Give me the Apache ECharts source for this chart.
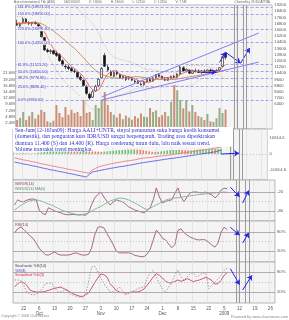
<!DOCTYPE html>
<html>
<head>
<meta charset="utf-8">
<title>ASII</title>
<script src="https://cdn.jsdelivr.net/npm/echarts@6.0.0/dist/echarts.min.js"></script>
<style>
  html, body { margin: 0; padding: 0; background: #fff; }
  #chart { width: 289px; height: 320px; }
</style>
</head>
<body>
<div id="chart"></div>
<script>
// trading days shown on the axis (data stops at 2009-01-06, the rest is room for projections)
const dates = [
  "2008-09-17","2008-09-18","2008-09-19","2008-09-22","2008-09-23","2008-09-24","2008-09-25","2008-09-26",
  "2008-10-06","2008-10-07","2008-10-08","2008-10-09","2008-10-10","2008-10-13","2008-10-14","2008-10-15",
  "2008-10-16","2008-10-17","2008-10-20","2008-10-21","2008-10-22","2008-10-23","2008-10-24","2008-10-27",
  "2008-10-28","2008-10-29","2008-10-30","2008-10-31","2008-11-03","2008-11-04","2008-11-05","2008-11-06",
  "2008-11-07","2008-11-10","2008-11-11","2008-11-12","2008-11-13","2008-11-14","2008-11-17","2008-11-18",
  "2008-11-19","2008-11-20","2008-11-21","2008-11-24","2008-11-25","2008-11-26","2008-11-27","2008-11-28",
  "2008-12-01","2008-12-02","2008-12-03","2008-12-04","2008-12-05","2008-12-08","2008-12-09","2008-12-10",
  "2008-12-11","2008-12-12","2008-12-15","2008-12-16","2008-12-17","2008-12-18","2008-12-19","2008-12-22",
  "2008-12-23","2008-12-24","2008-12-29","2008-12-30","2009-01-05","2009-01-06","2009-01-07","2009-01-08",
  "2009-01-09","2009-01-12","2009-01-13","2009-01-14","2009-01-15","2009-01-16","2009-01-19","2009-01-20",
  "2009-01-21","2009-01-22","2009-01-23","2009-01-26","2009-01-27"
];

const opens = [16800,16500,17000,17400,16900,16800,16900,16700,16300,15000,
  13400,13200,13300,13000,12800,12000,11300,11200,11000,10700,
  10500,9900,9500,8700,7700,7300,8100,8800,9800,12700,
  11200,10600,10000,10600,10200,9800,9900,9700,9800,9400,
  9300,9000,8900,9300,9600,9400,9800,10200,10000,9600,
  9500,9800,10000,9900,10300,11100,10700,10800,10400,10700,
  10700,10500,10700,10600,10800,10600,10700,10800,11300,13000];
const highs = [17300,16900,17600,17500,17100,17000,17100,16900,16400,15100,
  13600,13500,13400,13300,13000,12200,11600,11500,11200,11000,
  10600,10200,9600,8900,7900,8200,8900,9800,11200,13000,
  11500,10800,10700,10800,10300,10100,10000,10000,9900,9600,
  9500,9200,9400,9700,9800,9900,10300,10400,10100,9800,
  9900,10100,10200,10400,11400,11300,11000,10900,10800,11000,
  10900,10800,10900,10900,11000,10800,10900,11200,12600,13000];
const lows = [16500,16200,16900,16900,16600,16500,16700,16400,15000,13300,
  13000,12900,12800,12500,11900,11300,10900,10800,10500,10400,
  9800,9400,8700,7600,6950,7200,8000,8600,9700,11200,
  10600,10000,9900,10100,9700,9600,9400,9500,9400,9100,
  9000,8800,8800,9200,9300,9300,9700,9900,9600,9400,
  9400,9700,9800,9800,10200,10600,10500,10300,10300,10500,
  10400,10300,10500,10400,10500,10400,10500,10700,11200,12150];
const closes = [16600,16800,17400,17000,16800,16900,16800,16500,15100,13400,
  13200,13300,12900,12700,12000,11500,11200,11000,10700,10600,
  9900,9600,8800,7800,7200,8000,8700,9600,11000,11300,
  10800,10100,10500,10300,9800,10000,9600,9900,9500,9300,
  9100,8900,9300,9600,9400,9800,10200,10000,9700,9500,
  9800,10000,9900,10300,11200,10700,10900,10400,10700,10600,
  10500,10700,10600,10800,10600,10700,10800,11100,12500,12450];
// volume, millions of shares
const volumes = [3.5,4.3,6.6,3.5,5.0,6.6,4.0,5.5,7.4,6.6,
  3.0,2.5,3.2,9.3,6.2,4.6,8.5,5.5,7.4,6.2,
  6.6,5.0,11.2,6.2,6.6,3.5,9.3,8.1,11.2,14.3,
  9.3,6.6,5.5,4.5,6.0,3.8,5.2,4.4,3.6,5.0,
  4.2,6.0,4.8,4.6,8.1,6.6,7.2,4.6,5.4,6.6,
  5.0,10.5,17.0,15.0,11.2,8.0,11.2,6.8,9.3,6.6,
  5.0,4.6,3.5,5.8,3.0,2.7,4.2,8.1,6.2,7.5];

// overlays
const maShort = [16900,16850,16900,16950,16900,16980,16980,16800,16420,15740,
  15000,14260,13580,13100,12820,12480,12060,11680,11280,11000,
  10680,10360,9920,9340,8660,8280,8100,8260,8900,9720,
  10280,10560,10740,10600,10300,10140,10040,9920,9760,9660,
  9480,9340,9220,9240,9260,9400,9660,9800,9820,9840,
  9840,9800,9780,9900,10240,10420,10600,10700,10780,10660,
  10620,10580,10620,10640,10640,10680,10700,10800,11140,11510];
const maLong = [16700,16750,16800,16850,16850,16880,16900,16880,16800,16600,
  16350,16100,15850,15550,15250,14900,14600,14250,13900,13600,
  13200,12800,12400,11950,11500,11100,10750,10450,10250,10100,
  9950,9850,9800,9780,9760,9770,9800,9850,9900,9950,
  9950,9900,9850,9780,9700,9650,9620,9600,9580,9560,
  9560,9580,9600,9640,9720,9790,9860,9920,9990,10050,
  10110,10180,10250,10330,10400,10460,10520,10580,10700,10820];
const bandUpper = [17700,17700,17800,17900,17900,17900,17900,17900,18400,19300,
  19900,20300,20500,20500,20500,20400,20200,19900,19500,19100,
  18700,18300,17900,17600,17300,16800,16200,15500,14700,14000,
  13300,12800,12500,12300,12200,12100,12000,11900,11800,11600,
  11400,11200,11000,10900,10900,10800,10800,10700,10600,10600,
  10500,10500,10500,10600,11000,11200,11300,11400,11400,11400,
  11400,11350,11300,11200,11150,11100,11100,11200,12000,12400];
const bandLower = [16000,16000,16000,16000,16000,16100,16100,16000,15300,14100,
  13000,12100,11400,10800,10200,9700,9200,8800,8400,8100,
  7800,7400,7000,6500,6000,5700,5500,5600,5900,6200,
  6600,7000,7300,7500,7600,7700,7900,8000,8200,8400,
  8500,8500,8500,8500,8500,8500,8600,8600,8600,8600,
  8700,8700,8800,8800,8700,8700,8700,8700,8800,9200,
  9500,9700,9800,9900,10000,10100,10200,10200,9900,9700];

const fibPct = [0, 23.6, 38.2, 50, 61.8, 100, 123.6, 150, 161.8];
const fibPrice = [6950.00, 8696.40, 9776.80, 10650.00, 11523.20, 14350.00, 16096.40, 18050.00, 18923.20];

// second panel
const oscHist = [300,400,500,600,500,400,300,400,800,1200,
  1500,1800,2000,2200,2400,2600,2800,3000,3200,3000,
  2800,2600,2800,3000,3300,3000,2600,2200,1800,1500,
  1600,1800,2000,2200,2400,2600,2700,2800,2900,3000,
  3000,2900,2800,2500,2100,1800,1500,1400,1600,1900,
  2100,2300,2500,2600,2700,2800,2700,2500,2300,2400,
  2600,2800,3000,3100,3200,3300,3400,3300,3500,3600];
const oscRed = [-2600,-3000,-3400,-3900,-4200,-4600,-5100,-5400,-5900,-6500,
  -6800,-7200,-7700,-8000,-8400,-8900,-9200,-9600,-10100,-10400,
  -10800,-11300,-11600,-12000,-12400,-12600,-10500,-9500,-8600,-8000,
  -7500,-7000,-6600,-6200,-5800,-5400,-5100,-4700,-4500,-4200,
  -3900,-3500,-3000,-2700,-2500,-2300,-2100,-1800,-1500,-1300,
  -1100,-900,-600,-300,0,300,600,900,1200,1500,
  1800,2100,2400,2700,3000,3300,3600,3900,4300,4640];
const oscBlue = [-5300,-5700,-6100,-6600,-6900,-7300,-7800,-8100,-8600,-9100,
  -9500,-9900,-10400,-10700,-11100,-11600,-11900,-12300,-12800,-13100,
  -13500,-14000,-14400,-14800,-15250,-13400,-12000,-11500,-11100,-10700,
  -10300,-9900,-9500,-9200,-8800,-8500,-8200,-7900,-7500,-7200,
  -6800,-6400,-6000,-5700,-5400,-5100,-4800,-4500,-4200,-3900,
  -3600,-3300,-3000,-2800,-2500,-2200,-1900,-1600,-1300,-1000,
  -700,-400,-100,200,500,800,1100,1500,2000,2650];

const willR = [-61,-45,-50,-51,-46,-43,-42,-45,-77,-88,
  -92,-70,-75,-80,-83,-86,-90,-92,-92,-91,
  -92,-93,-92,-94,-86,-60,-39,-28,-20,-36,
  -50,-61,-52,-45,-48,-51,-58,-67,-72,-77,
  -80,-83,-86,-78,-70,-45,-7,-36,-55,-50,
  -47,-45,-25,-7,-36,-51,-35,-23,-20,-20,
  -22,-23,-20,-25,-29,-39,-30,-14,-8,-10];
const willRMa = [-77,-70,-63,-57,-52,-48,-46,-45,-47,-50,
  -54,-58,-61,-66,-71,-76,-80,-83,-86,-89,
  -91,-92,-91,-89,-86,-81,-75,-70,-66,-60,
  -54,-49,-45,-42,-39,-40,-42,-45,-50,-55,
  -60,-66,-72,-76,-72,-66,-61,-56,-51,-46,
  -43,-41,-39,-38,-37,-35,-34,-32,-31,-29,
  -28,-27,-26,-25,-24,-23,-22,-21,-20,-21];
const rsi = [77,90,96,88,78,68,60,45,29,18,
  8,7,12,17,10,7,7,7,8,12,
  14,10,7,7,9,29,70,95,97,93,
  75,58,40,20,14,14,14,14,12,6,
  4,2,2,10,25,55,86,75,60,55,
  42,30,40,85,90,78,70,64,60,56,
  55,56,55,47,39,32,45,80,95,88];
const stochK = [56,56,55,40,20,14,11,14,17,30,
  45,47,47,32,22,20,24,26,14,11,
  7,5,8,11,50,95,98,80,62,45,
  32,20,20,28,35,25,12,15,20,25,
  31,33,35,60,77,85,65,45,30,18,
  35,50,70,86,65,56,65,75,78,65,
  70,77,77,30,40,50,60,70,86,92];
const stochD = [35,45,50,48,40,26,22,20,20,20,
  22,25,28,31,33,35,30,26,20,15,
  11,8,5,12,17,32,48,62,74,72,
  65,45,35,25,20,18,17,18,20,20,
  20,24,29,40,52,65,75,70,62,52,
  48,47,52,56,52,55,60,56,51,54,
  56,60,64,60,55,44,45,55,70,78];

// hand-drawn annotations: [categoryIndex, value] pairs
const channelLines = [[[28, 7330], [80, 15580]], [[28, 6940], [80, 11840]]];
const priceArrows = [[[61, 10550], [66, 10550]], [[67, 11800], [69, 13100]], [[69, 13100], [74, 11700]], [[74, 11700], [77, 13650]]];
const oscArrows = [[[69, 0], [75, 600]]];
const willArrows = [[[70, -5], [73, -35]], [[74, -55], [76, -15]]];
const rsiArrows = [[[70, 95], [73, 70]], [[74, 45], [76, 78]]];
const stochArrows = [[[70, 90], [73, 42]], [[74, 26], [77, 70]]];
const cycleIdx = [72, 73, 75, 76];

const noteLines = [
  "Sen-Jum(12-16Jan09): Harga AALI+UNTR, sinyal penurunan suku bunga kredit konsumsi",
  "(domestik), dan penguatan kurs IDR/USD sangat berpengaruh. Trading area diperkirakan",
  "diantara 11.400 (S) dan 14.400 (R). Harga cenderung turun dulu, lalu naik sesuai trend.",
  "Volume transaksi trend meningkat."
];

const ohlc = opens.map((o, i) => [o, closes[i], lows[i], highs[i]]);
const isUp = i => closes[i] >= opens[i];

const lvlStyle = { color: "#a992a2", width: 0.8, type: "solid" };
const midStyle = { color: "#b8b8b8", width: 0.8, type: [1, 2] };
const cycStyle = { color: "#9c9c9c", width: 1, type: "solid" };
const arrowStyle = { color: "#2424e6", width: 1, type: "solid" };

function seg(p, style, arrow) {
  return [
    { coord: [dates[p[0][0]], p[0][1]], lineStyle: style },
    { coord: [dates[p[1][0]], p[1][1]], symbol: arrow ? "arrow" : "none", symbolSize: 5 }
  ];
}

function panelMarks(levels, mid, arrows) {
  const data = [];
  levels.forEach(v => data.push({ yAxis: v, lineStyle: lvlStyle }));
  if (mid !== null) data.push({ yAxis: mid, lineStyle: midStyle });
  cycleIdx.forEach(i => data.push({ xAxis: dates[i], lineStyle: cycStyle }));
  arrows.forEach(p => data.push(seg(p, arrowStyle, true)));
  return { silent: true, symbol: "none", label: { show: false }, data: data };
}

const L = 13, R = 14;
const tops = [5, 129, 180, 221, 262];
const heights = [124, 51, 41, 41, 41];
const grids = tops.map((t, i) => ({
  left: L, right: R, top: t, height: heights[i],
  show: true, backgroundColor: "#f4f4f4", borderColor: "#9a9a9a", borderWidth: 0.7
}));

const monthTag = { 8: "Oct", 28: "Nov", 48: "Dec", 68: "2009" };
const weekTick = idx => idx >= 3 && (idx - 3) % 5 === 0;

const xAxes = grids.map((g, i) => ({
  type: "category", gridIndex: i, data: dates, boundaryGap: true,
  axisLine: { show: false }, axisTick: { show: false },
  splitLine: { show: true, interval: weekTick, lineStyle: { color: "#e0e0e0", width: 0.7 } },
  axisLabel: i === 4 ? {
    show: true, interval: weekTick, fontSize: 4.5, color: "#555", margin: 3, lineHeight: 5,
    fontFamily: "Liberation Sans",
    formatter: (val, idx) => {
      const d = String(+val.slice(8));
      return monthTag[idx] ? d + "\n" + monthTag[idx] : d;
    }
  } : { show: false }
}));

const small = { fontSize: 4.2, color: "#555", margin: 2, fontFamily: "Liberation Sans" };
const yAxes = [
  { type: "value", gridIndex: 0, position: "right", min: 3200, max: 19200, interval: 800,
    splitLine: { show: false }, axisLine: { show: false }, axisTick: { show: false },
    axisLabel: Object.assign({}, small, { formatter: v => (v >= 6400 ? String(v) : "") }) },
  { type: "value", gridIndex: 0, position: "left", min: 0, max: 48e6, interval: 2.4e6,
    splitLine: { show: false }, axisLine: { show: false }, axisTick: { show: false },
    axisLabel: Object.assign({}, small, { margin: 1, formatter: v => {
      const m = Math.round(v / 1e5) / 10;
      return (m > 0 && m <= 21.6) ? m.toFixed(1) + "M" : "";
    } }) },
  { type: "value", gridIndex: 1, position: "right", min: -17200, max: 16600,
    splitLine: { show: false }, axisLine: { show: false }, axisTick: { show: false },
    axisLabel: Object.assign({}, small, { customValues: [10614.6, 0, -10614.6], formatter: v => String(v) }) },
  { type: "value", gridIndex: 2, position: "right", min: -112, max: 18,
    splitLine: { show: false }, axisLine: { show: false }, axisTick: { show: false },
    axisLabel: Object.assign({}, small, { customValues: [-20, -80], formatter: v => String(v) }) },
  { type: "value", gridIndex: 3, position: "right", min: -15, max: 115,
    splitLine: { show: false }, axisLine: { show: false }, axisTick: { show: false },
    axisLabel: Object.assign({}, small, { customValues: [80, 20], formatter: v => v + "%" }) },
  { type: "value", gridIndex: 4, position: "right", min: -13, max: 110,
    splitLine: { show: false }, axisLine: { show: false }, axisTick: { show: false },
    axisLabel: Object.assign({}, small, { customValues: [80, 20], formatter: v => v + "%" }) }
];

// price panel annotations
const priceMarkData = [];
channelLines.forEach(p => priceMarkData.push(seg(p, { color: "#7474f2", width: 0.9, type: "solid" }, false)));
priceArrows.forEach(p => priceMarkData.push(seg(p, arrowStyle, true)));
cycleIdx.forEach(i => priceMarkData.push({ xAxis: dates[i], lineStyle: cycStyle }));

const chart = echarts.init(document.getElementById("chart"));
chart.setOption({
  animation: false,
  backgroundColor: "#ffffff",
  grid: grids,
  xAxis: xAxes,
  yAxis: yAxes,
  series: [
    {
      name: "Volume", type: "bar", xAxisIndex: 0, yAxisIndex: 1,
      data: volumes.map(v => v * 1e6), barWidth: 2,
      itemStyle: { color: p => (isUp(p.dataIndex) ? "#98ad86" : "#cc8f76") }
    },
    {
      name: "ASII", type: "candlestick", xAxisIndex: 0, yAxisIndex: 0,
      data: ohlc, barWidth: 2,
      itemStyle: { color: "#ffffff", color0: "#111111", borderColor: "#111111", borderColor0: "#111111", borderWidth: 0.6 },
      markLine: {
        silent: true, symbol: "none",
        lineStyle: { color: "#8d8df2", type: [3, 2], width: 0.8 },
        label: {
          position: "insideStartTop", distance: [1, -2.2], fontSize: 3.8, color: "#3535c8",
          backgroundColor: "#f4f4f4", padding: [0, 1], fontFamily: "Liberation Sans"
        },
        data: fibPct.map((p, i) => ({
          yAxis: fibPrice[i],
          label: { formatter: p.toFixed(1) + "% (" + fibPrice[i].toFixed(2) + ")" }
        }))
      }
    },
    { name: "Upper", type: "line", xAxisIndex: 0, yAxisIndex: 0, data: bandUpper, symbol: "none",
      lineStyle: { color: "#d6a56e", width: 0.8, type: [1, 1.5] } },
    { name: "Lower", type: "line", xAxisIndex: 0, yAxisIndex: 0, data: bandLower, symbol: "none",
      lineStyle: { color: "#d6a56e", width: 0.8, type: [1, 1.5] } },
    { name: "MA long", type: "line", xAxisIndex: 0, yAxisIndex: 0, data: maLong, symbol: "none",
      lineStyle: { color: "#c57a34", width: 0.8 } },
    { name: "MA short", type: "line", xAxisIndex: 0, yAxisIndex: 0, data: maShort, symbol: "none",
      lineStyle: { color: "#e8473c", width: 0.8 },
      markLine: { silent: true, symbol: "none", label: { show: false }, data: priceMarkData } },

    { name: "Hist", type: "bar", xAxisIndex: 1, yAxisIndex: 2, data: oscHist, barWidth: 1.6,
      itemStyle: { color: p => (p.dataIndex > 0 && oscHist[p.dataIndex] < oscHist[p.dataIndex - 1] ? "#e8846e" : "#6fbf6f") } },
    { name: "Osc A", type: "line", xAxisIndex: 1, yAxisIndex: 2, data: oscRed, symbol: "none",
      lineStyle: { color: "#f07a84", width: 0.9 } },
    { name: "Osc B", type: "line", xAxisIndex: 1, yAxisIndex: 2, data: oscBlue, symbol: "none",
      lineStyle: { color: "#5c5cf0", width: 0.9 },
      markLine: panelMarks([], 0, oscArrows) },

    { name: "Will%R(14)", type: "line", xAxisIndex: 2, yAxisIndex: 3, data: willR, symbol: "none",
      lineStyle: { color: "#9c5878", width: 0.9 },
      markLine: panelMarks([-20, -80], -50, willArrows) },
    { name: "Will%R MA", type: "line", xAxisIndex: 2, yAxisIndex: 3, data: willRMa, symbol: "none",
      lineStyle: { color: "#7db68f", width: 0.9 } },

    { name: "RSI(14)", type: "line", xAxisIndex: 3, yAxisIndex: 4, data: rsi, symbol: "none",
      lineStyle: { color: "#9c5878", width: 0.9 },
      markLine: panelMarks([80, 20], 50, rsiArrows) },

    { name: "%K", type: "line", xAxisIndex: 4, yAxisIndex: 5, data: stochK, symbol: "none",
      lineStyle: { color: "#8c8c8c", width: 0.8, type: [1.5, 1.5] } },
    { name: "%D", type: "line", xAxisIndex: 4, yAxisIndex: 5, data: stochD, symbol: "none",
      lineStyle: { color: "#c8466a", width: 0.9 },
      markLine: panelMarks([80, 20], 50, stochArrows) }
  ],
  graphic: [
    { type: "text", left: 14, top: 0.5, z: 50,
      style: { text: "Astra International Tbk (ASII)          06/01/2009          O: 13000          H: 13000          L: 12150          C: 12450          V: 7.5M",
        font: "3.2px 'Liberation Sans'", fill: "#666" } },
    { type: "text", right: 18, top: 0.5, z: 50,
      style: { text: "Charted by ODDCAPITAL", font: "3.2px 'Liberation Sans'", fill: "#666" } },
    { type: "rect", shape: { x: 13, y: 127, width: 220, height: 19.5 }, style: { fill: "#ffffff" }, z: 60 },
    { type: "rect", shape: { x: 13, y: 146.5, width: 90, height: 5 }, style: { fill: "#ffffff" }, z: 60 },
    { type: "text", left: 15, top: 127.5, z: 61,
      style: { text: noteLines.join("\n"), font: "5.6px 'Liberation Serif'", fill: "#3232c8", lineHeight: 6.3 } },
    { type: "text", left: 15, top: 182, z: 50,
      style: { text: "Will%R(14)", font: "3.8px 'Liberation Sans'", fill: "#8a3c60" } },
    { type: "text", left: 15, top: 186.5, z: 50,
      style: { text: "Will%R(14) MA(5)", font: "3.8px 'Liberation Sans'", fill: "#4f9a66" } },
    { type: "text", left: 15, top: 223, z: 50,
      style: { text: "RSI(14)", font: "3.8px 'Liberation Sans'", fill: "#8a3c60" } },
    { type: "text", left: 15, top: 264, z: 50,
      style: { text: "Stochastic %K(14)", font: "3.8px 'Liberation Sans'", fill: "#444" } },
    { type: "text", left: 15, top: 268.5, z: 50,
      style: { text: "%K(3)", font: "3.8px 'Liberation Sans'", fill: "#3535d0" } },
    { type: "text", left: 15, top: 273, z: 50,
      style: { text: "Smoothed %D(3)", font: "3.8px 'Liberation Sans'", fill: "#d03040" } },
    { type: "text", left: 1, top: 314, z: 50,
      style: { text: "Copyright \u00a9 2008 ChartNexus", font: "3.6px 'Liberation Sans'", fill: "#888" } },
    { type: "text", right: 1, top: 315, z: 50,
      style: { text: "Powered by www.chartnexus.com", font: "3.8px 'Liberation Sans'", fill: "#888" } }
  ]
});
</script>
</body>
</html>
